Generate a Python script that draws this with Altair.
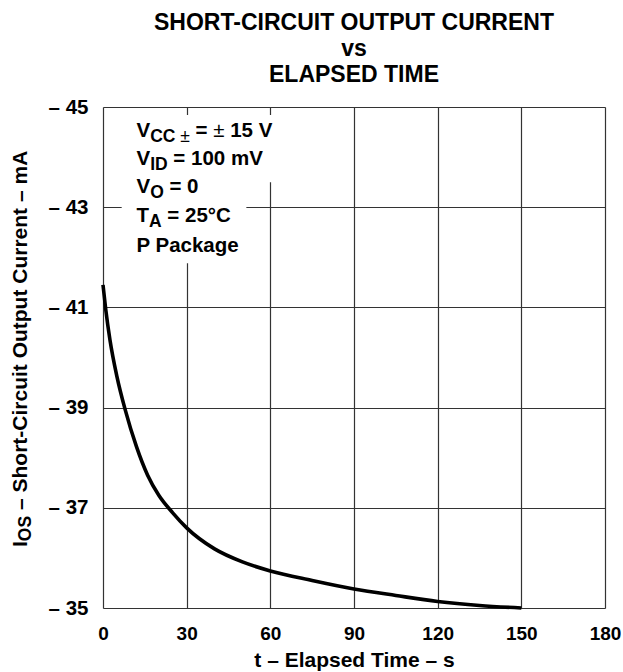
import altair as alt
import pandas as pd

# ---- data ----
time_s = [0, 1, 2.5, 5, 8, 12, 16, 20, 25, 30, 40, 50, 60, 75, 90, 105, 120, 135, 150]
ios_ma = [-41.45, -40.95, -40.35, -39.62, -38.95, -38.22, -37.65, -37.25, -36.9, -36.6,
          -36.18, -35.92, -35.74, -35.55, -35.38, -35.25, -35.13, -35.05, -35.0]

x_ticks = [0, 30, 60, 90, 120, 150, 180]
y_ticks = [-45, -43, -41, -39, -37, -35]

title_lines = ["SHORT-CIRCUIT OUTPUT CURRENT", "vs", "ELAPSED TIME"]
x_title = "t – Elapsed Time – s"

# annotation lines: list of segments (text, kind)
note_lines = [
    [("V", "main"), ("CC ", "sub"), ("±", "subn"), (" = ", "main"), ("±", "mainn"), (" 15 V", "main")],
    [("V", "main"), ("ID", "sub"), (" = 100 mV", "main")],
    [("V", "main"), ("O", "sub"), (" = 0", "main")],
    [("T", "main"), ("A", "sub"), (" = 25°C", "main")],
    [("P Package", "main")],
]
note_t = 12.0
note_base = [-44.40, -43.84, -43.28, -42.71, -42.11]

# white knock-out boxes behind the annotation (data units)
box_t1 = [6.7, 6.7]
box_t2 = [67.0, 51.4]
box_i1 = [-44.84, -43.50]
box_i2 = [-43.50, -41.88]

y_title_segs = [("I", "main"), ("OS", "sub"), (" – Short-Circuit Output Current – mA", "main")]

FONT = "Liberation Sans"
W, H = 502, 501

BOLD = {' ': 278, '=': 584, '±': 549, '°': 400, 'A': 722, 'C': 722, 'D': 722, 'I': 278,
        'O': 778, 'P': 667, 'T': 611, 'V': 667, 'S': 667, 'a': 556, 'c': 556, 'e': 556,
        'g': 611, 'k': 556, 'm': 889, 'h': 611, 'o': 611, 'r': 389, 't': 333, '-': 333,
        'i': 278, 'u': 611, 'p': 611, 'n': 611, '–': 556}
REG = {' ': 278, '±': 549}


def text_width(s, size, bold=True):
    table = BOLD if bold else REG
    w = 0
    for ch in s:
        if ch.isdigit():
            w += 556
        else:
            w += table.get(ch, 556)
    return w * size / 1000.0


STYLE = {
    "main": (20.5, "bold", 0),
    "mainn": (20.5, "normal", 0),
    "sub": (17.5, "bold", 5),
    "subn": (17.5, "normal", 5),
}

x_scale = alt.Scale(domain=[0, 180], nice=False, zero=False)
y_scale = alt.Scale(domain=[-45, -35], reverse=True, nice=False, zero=False)

x_axis = alt.Axis(values=x_ticks, title=x_title, grid=True, ticks=False, domain=False,
                  labelFontSize=19, labelFont=FONT, labelFontWeight="bold", labelColor="black",
                  labelPadding=16.5, titleFontSize=21, titleFont=FONT, titleFontWeight="bold",
                  titleColor="black", titlePadding=6, gridColor="#333333", gridWidth=1.2,
                  gridOpacity=1, labelFlush=False)
y_axis = alt.Axis(values=y_ticks, title=None, grid=True, ticks=False, domain=False,
                  labelExpr="'– ' + abs(datum.value)",
                  labelFontSize=20.5, labelFont=FONT, labelFontWeight="bold", labelColor="black",
                  labelPadding=15, gridColor="#333333", gridWidth=1.2, gridOpacity=1)


def xenc():
    return alt.X("t:Q", scale=x_scale, axis=x_axis)


def yenc():
    return alt.Y("ios:Q", scale=y_scale, axis=y_axis)


curve_df = pd.DataFrame({"t": time_s, "ios": ios_ma})
curve = alt.Chart(curve_df).mark_line(color="black", strokeWidth=3.6, interpolate="monotone").encode(
    x=xenc(), y=yenc())

box_df = pd.DataFrame({"t": box_t1, "t2": box_t2, "ios": box_i1, "ios2": box_i2})
boxes = alt.Chart(box_df).mark_rect(color="white").encode(
    x=xenc(), x2="t2:Q", y=yenc(), y2="ios2:Q")

layers = [boxes, curve]

# annotation text segments
for line, base in zip(note_lines, note_base):
    cur = 0.0
    for txt, kind in line:
        size, weight, dy = STYLE[kind]
        lead = len(txt) - len(txt.lstrip(" "))
        shown = txt.strip(" ")
        dx = cur + text_width(" " * lead, size, weight == "bold")
        seg_df = pd.DataFrame({"t": [note_t], "ios": [base]})
        layers.append(
            alt.Chart(seg_df).mark_text(text=shown, align="left", baseline="alphabetic",
                                        dx=dx, dy=dy, fontSize=size, fontWeight=weight,
                                        font=FONT, color="black").encode(x=xenc(), y=yenc()))
        cur += text_width(txt, size, weight == "bold")

# rotated y-axis title with subscript
YT_MAIN, YT_SUB = 21, 17.5
cur = 0.0
for txt, kind in y_title_segs:
    size = YT_SUB if kind == "sub" else YT_MAIN
    dy = 4 if kind == "sub" else 0
    lead = len(txt) - len(txt.lstrip(" "))
    shown = txt.strip(" ")
    dx = cur + text_width(" " * lead, size, True)
    layers.append(
        alt.Chart(pd.DataFrame({"k": [0]})).mark_text(
            text=shown, angle=270, align="left", baseline="alphabetic", dx=dx, dy=dy,
            fontSize=size, fontWeight="bold", font=FONT, color="black").encode(
            x=alt.value(-76), y=alt.value(440)))
    cur += text_width(txt, size, True)

chart = alt.layer(*layers).properties(
    width=W, height=H,
    autosize="none",
    padding={"left": 103, "top": 107, "right": 18, "bottom": 64},
    title=alt.TitleParams(text=title_lines, fontSize=23, font=FONT, fontWeight="bold",
                          lineHeight=26, anchor="middle", frame="group", offset=10,
                          color="black"),
).configure_view(stroke="black", strokeWidth=3).configure(background="white")

chart.save("out.html", embed_options={"renderer": "svg", "actions": False})
